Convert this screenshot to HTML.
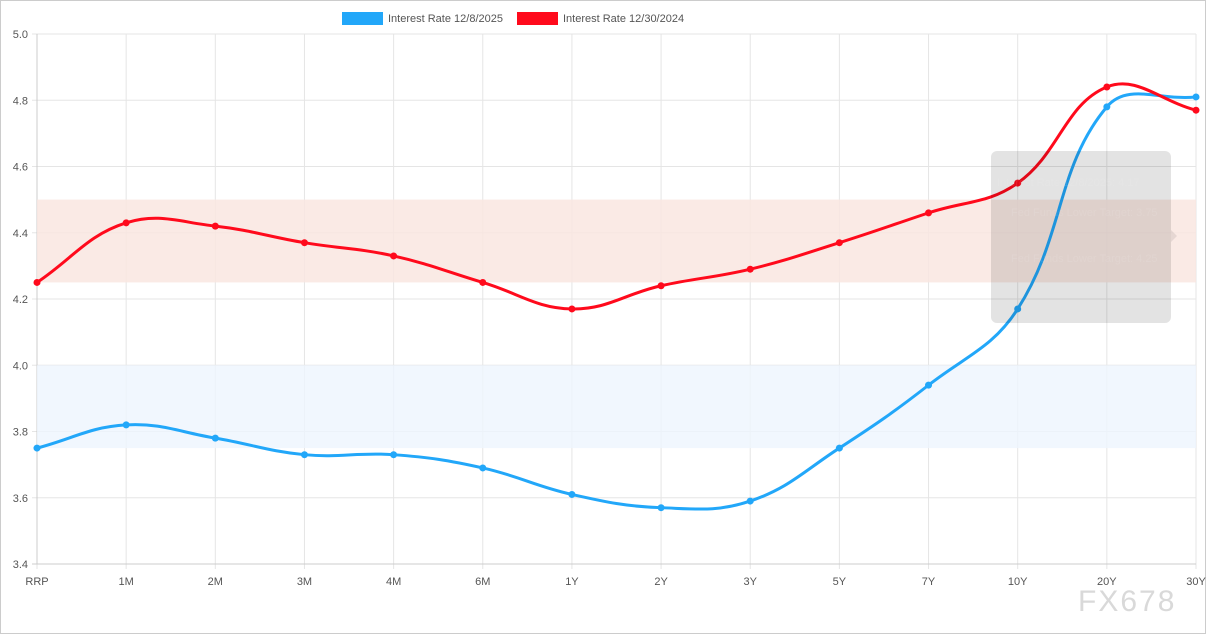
<!DOCTYPE html>
<html><head><meta charset="utf-8"><style>
html,body{margin:0;padding:0;background:#fff;}
body{width:1207px;height:636px;overflow:hidden;position:relative;font-family:"Liberation Sans",Arial,sans-serif;}
</style></head><body>
<svg id="s" width="1207" height="636" xmlns="http://www.w3.org/2000/svg" style="position:absolute;left:0;top:0">
<rect x="0.5" y="0.5" width="1205" height="633" fill="#fff" stroke="#ccc"/>
<g id="grid"></g>
<rect x="37" y="199.6" width="1159" height="82.8" fill="#f9e6e1" opacity="0.85"/>
<rect x="37" y="365.25" width="1159" height="82.8" fill="#eef5fe" opacity="0.8"/>
<g id="lines"></g>
<rect x="991" y="151" width="180" height="172" rx="6" fill="rgba(0,0,0,0.11)"/>
<polygon points="1171,230 1177,236 1171,242" fill="rgba(0,0,0,0.08)"/>
<g font-size="11" fill="rgba(255,255,255,0.1)">
<text x="997" y="186">Interest Rate 12/8/2025: 4.17</text>
<text x="1011" y="216">Fed Funds Lower Target: 3.75</text>
<text x="1011" y="262">Fed Funds Lower Target: 4.25</text>
</g>
<g id="legend">
<rect x="342" y="12" width="41" height="13" fill="#22a7f9"/>
<text x="388" y="22" font-size="11" fill="#555">Interest Rate 12/8/2025</text>
<rect x="517" y="12" width="41" height="13" fill="#ff0a1c"/>
<text x="563" y="22" font-size="11" fill="#555">Interest Rate 12/30/2024</text>
</g>
<text x="1078" y="611" font-size="30" fill="#d9d9d9" letter-spacing="2">FX678</text>
</svg>
<script>
var ns="http://www.w3.org/2000/svg",g=document.getElementById('grid'),L=document.getElementById('lines');
function el(p,t,a){var e=document.createElementNS(ns,t);for(var k in a)e.setAttribute(k,a[k]);p.appendChild(e);return e;}
var labs=["RRP","1M","2M","3M","4M","6M","1Y","2Y","3Y","5Y","7Y","10Y","20Y","30Y"];
function X(i){return 37+i*(1159/13);} function Y(v){return 34+(5-v)*331.25;}
for(var i=0;i<=8;i++){var v=5-i*0.2,y=Y(v);el(g,'line',{x1:32,x2:1196,y1:y,y2:y,stroke:'#e5e5e5'});
var t=el(g,'text',{x:28,y:y+4,'font-size':11,fill:'#555','text-anchor':'end'});t.textContent=v.toFixed(1);}
for(var i=0;i<14;i++){var x=X(i);el(g,'line',{x1:x,x2:x,y1:34,y2:569,stroke:'#e5e5e5'});
var t=el(g,'text',{x:x,y:585,'font-size':11,fill:'#555','text-anchor':'middle'});t.textContent=labs[i];}
el(g,'line',{x1:37,x2:37,y1:34,y2:564,stroke:'#ccc'});el(g,'line',{x1:32,x2:1196,y1:564,y2:564,stroke:'#ccc'});
var B=[3.75,3.82,3.78,3.73,3.73,3.69,3.61,3.57,3.59,3.75,3.94,4.17,4.78,4.81];
var R=[4.25,4.43,4.42,4.37,4.33,4.25,4.17,4.24,4.29,4.37,4.46,4.55,4.84,4.77];
function path(d,c){var p=d.map(function(v,i){return[X(i),Y(v)]}),t=0.4,s="M"+p[0][0]+","+p[0][1];
var cp=p.map(function(pt,i){var a=p[Math.max(i-1,0)],b=p[Math.min(i+1,p.length-1)];
var d01=Math.hypot(pt[0]-a[0],pt[1]-a[1]),d12=Math.hypot(b[0]-pt[0],b[1]-pt[1]);
var fa=t*d01/(d01+d12||1),fb=t*d12/(d01+d12||1);
return{p:[pt[0]-fa*(b[0]-a[0]),pt[1]-fa*(b[1]-a[1])],n:[pt[0]+fb*(b[0]-a[0]),pt[1]+fb*(b[1]-a[1])]};});
for(var i=1;i<p.length;i++){s+=" C"+cp[i-1].n[0]+","+cp[i-1].n[1]+" "+cp[i].p[0]+","+cp[i].p[1]+" "+p[i][0]+","+p[i][1];}
el(L,'path',{d:s,fill:'none',stroke:c,'stroke-width':3});
p.forEach(function(q){el(L,'circle',{cx:q[0],cy:q[1],r:3.5,fill:c});});}
path(B,'#22a7f9');path(R,'#ff0a1c');
</script>
</body></html>
